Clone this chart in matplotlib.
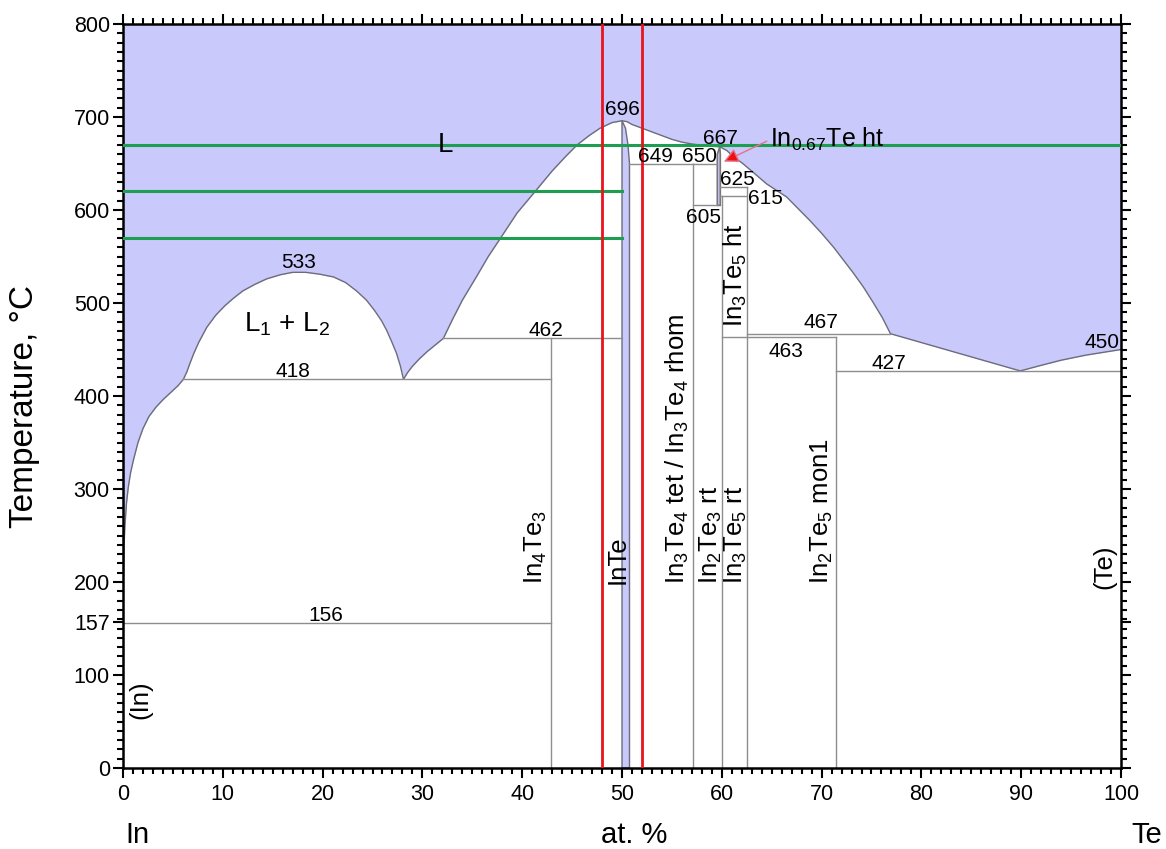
import matplotlib
matplotlib.use("Agg")
import matplotlib.pyplot as plt
from matplotlib.ticker import MultipleLocator

plt.rcParams['font.family'] = ['Liberation Sans', 'DejaVu Sans']
plt.rcParams['mathtext.fontset'] = 'custom'
plt.rcParams['mathtext.rm'] = 'Liberation Sans'
plt.rcParams['mathtext.it'] = 'Liberation Sans'
plt.rcParams['mathtext.default'] = 'regular'

# liquidus (upper boundary of the two-phase / solid regions)
liq_x = [0, 0.03, 0.1, 0.2, 0.35, 0.53, 0.75, 1.04, 1.5, 2.0, 2.6, 3.3, 4.0, 4.8, 5.5,
         6.05, 6.4, 6.7, 7.1, 7.6, 8.4, 9.3, 10.2, 11.05, 12.0, 13.2, 14.4, 15.8, 17.0,
         18.3, 19.7, 21.1, 22.3, 23.4, 24.4, 25.2, 25.9, 26.4, 26.9, 27.4, 27.8, 28.1,
         28.5, 29.0, 29.7, 30.5, 31.3, 32.1, 33.0, 34.0, 35.4, 36.6, 37.9, 39.5, 41.3,
         43.0, 44.3, 45.5, 46.7, 47.8, 49.0, 50.0, 50.5, 51.0, 52.0, 53.0, 54.0, 55.0,
         56.0, 57.0, 58.5, 59.8, 60.5, 61.2, 62.1, 63.2, 64.5, 65.5, 66.5, 67.6, 68.8,
         70.0, 71.2, 72.2, 73.2, 74.2, 75.2, 76.1, 76.9, 89.9, 92.0, 94.0, 96.5, 100]
liq_t = [157, 200, 240, 262, 285, 302, 317, 331, 350, 365, 378, 388, 396, 404, 411,
         418, 426, 435, 446, 458, 474, 487, 497, 505, 513, 520, 526, 530.5, 533,
         533, 531, 528, 522, 513, 503, 492, 481, 471, 459, 446, 432, 418,
         425, 432, 440, 448, 455, 462, 482, 503, 528, 550, 571, 597, 620,
         642, 657, 670, 680, 688, 694, 696, 695, 692, 688, 684, 680, 676,
         673, 671, 669, 668, 664, 657, 650, 640, 628, 621, 614, 602, 589,
         575, 560, 546, 532, 517, 500, 484, 467, 427, 433, 438.5, 444, 450]

# InTe homogeneity band
inte_x = [50.0, 50.0, 50.35, 50.6, 50.75, 50.75]
inte_t = [0, 696, 688, 670, 650, 0]

# In0.67Te ht band
ht_x = [59.55, 59.55, 59.8, 59.85, 59.85]
ht_t = [605, 660, 668, 660, 605]

# invariant (horizontal) lines
h_x1 = [0, 6.05, 32.1, 50.75, 57.14, 57.14, 59.85, 59.85, 62.5, 60.0, 71.43]
h_x2 = [42.86, 42.86, 50.0, 57.14, 59.55, 59.55, 62.5, 62.5, 76.9, 71.43, 100]
h_t = [156, 418, 462, 650, 650, 605, 625, 615, 467, 463, 427]

# compound lines (vertical)
v_x = [42.86, 57.14, 60.0, 62.5, 71.43]
v_t = [462, 650, 615, 625, 463]

green_t = [670, 620, 570]
green_x2 = [100, 50, 50]
red_x = [48, 52]

num_labels = ['533', '418', '462', '696', '649', '650', '667', '625', '615', '605',
              '467', '463', '427', '450', '156']
num_x = [17.6, 17.0, 42.4, 50.0, 53.4, 57.8, 59.9, 61.6, 64.4, 58.2,
         69.9, 66.4, 76.7, 98.1, 20.3]
num_t = [537.5, 420.5, 464.5, 702, 652, 652, 670.5, 627, 606.5, 585.7,
         472.8, 441.6, 429, 452, 158.4]

phase_labels = ['In$_4$Te$_3$', 'InTe', 'In$_3$Te$_4$ tet / In$_3$Te$_4$ rhom',
                'In$_2$Te$_3$ rt', 'In$_3$Te$_5$ rt', 'In$_2$Te$_5$ mon1']
phase_x = [41.4, 49.6, 55.6, 58.9, 61.4, 70.0]

blue = '#c9c9fb'
gray = '#8e8e8e'
liqc = '#6c6c7c'

fig = plt.figure(figsize=(11.66, 8.49), dpi=100)
ax = fig.add_axes([0.1055, 0.0954, 0.8559, 0.8763])

ax.fill_between(liq_x, liq_t, 800, color=blue, lw=0, zorder=1)
ax.plot(liq_x, liq_t, color=liqc, lw=1.0, zorder=2)
ax.fill(inte_x, inte_t, facecolor=blue, edgecolor=liqc, lw=1.0, zorder=2)
ax.fill(ht_x, ht_t, facecolor=blue, edgecolor='#777777', lw=1.2, zorder=2)

for x1, x2, t in zip(h_x1, h_x2, h_t):
    ax.plot([x1, x2], [t, t], color=gray, lw=1.0, zorder=2)
for x, t in zip(v_x, v_t):
    ax.plot([x, x], [0, t], color=gray, lw=1.0, zorder=2)

for t, x2 in zip(green_t, green_x2):
    ax.plot([0, x2], [t, t], color='#1e9e50', lw=2.2, zorder=3)
for x in red_x:
    ax.plot([x, x], [0, 800], color='#e8141c', lw=2.0, zorder=4)

for s, x, t in zip(num_labels, num_x, num_t):
    ax.text(x, t, s, fontsize=15, ha='center', va='baseline', zorder=5)

for s, x in zip(phase_labels, phase_x):
    ax.text(x, 198, s, fontsize=18.5, rotation=90, ha='center', va='bottom', zorder=5)
ax.text(61.4, 474, 'In$_3$Te$_5$ ht', fontsize=18.5, rotation=90, ha='center', va='bottom', zorder=5)
ax.text(1.7, 73, '(In)', fontsize=18.5, rotation=90, ha='center', va='center', zorder=5)
ax.text(98.3, 216, '(Te)', fontsize=18.5, rotation=90, ha='center', va='center', zorder=5)

ax.text(32.3, 670, 'L', fontsize=20, ha='center', va='center', zorder=5)
ax.text(16.5, 477, 'L$_1$ + L$_2$', fontsize=20, ha='center', va='center', zorder=5)
ax.text(64.8, 667.5, 'In$_{0.67}$Te ht', fontsize=18, ha='left', va='baseline', zorder=5)
ax.annotate('', xy=(60.2, 652), xytext=(64.5, 674),
            arrowprops=dict(arrowstyle='-|>', mutation_scale=22, lw=1.0,
                            edgecolor='#e8708a', facecolor='#ee1111',
                            shrinkA=0, shrinkB=0), zorder=5)

ax.set_xlim(0, 100)
ax.set_ylim(0, 800)
ax.set_xticks(range(0, 101, 10))
ax.set_yticks([0, 100, 157, 200, 300, 400, 500, 600, 700, 800])
ax.xaxis.set_minor_locator(MultipleLocator(1))
ax.yaxis.set_minor_locator(MultipleLocator(10))
ax.tick_params(which='both', direction='out', top=True, right=True, width=1.5,
               labelsize=15.5, color='black')
ax.tick_params(which='major', length=7.5)
ax.tick_params(which='minor', length=4)
ax.tick_params(axis='y', pad=2)
ax.tick_params(axis='x', pad=4)
for sp in ax.spines.values():
    sp.set_linewidth(1.8)

fig.text(25 / 1166, 1 - 406 / 849, 'Temperature, °C', fontsize=24, rotation=90,
         ha='center', va='center')
fig.text(125 / 1166, 6 / 849, 'In', fontsize=21, ha='left', va='baseline')
fig.text(634 / 1166, 6 / 849, 'at. %', fontsize=21, ha='center', va='baseline')
fig.text(1131 / 1166, 6 / 849, 'Te', fontsize=21, ha='left', va='baseline')

fig.savefig('out.png', dpi=100)
